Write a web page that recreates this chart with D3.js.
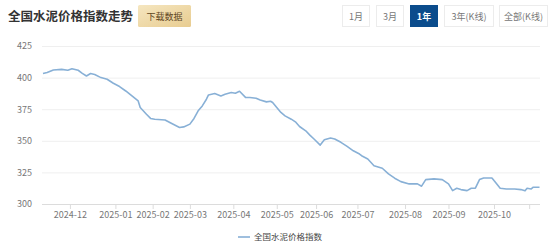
<!DOCTYPE html>
<html><head><meta charset="utf-8">
<script src="https://cdn.jsdelivr.net/npm/d3@7"></script>
<style>
body{margin:0;background:#fff}
svg{display:block}
text{font-family:"Noto Sans CJK SC","Noto Sans",sans-serif}
</style>
</head><body>
<svg id="c" width="560" height="246"></svg>
<script>
const title = "全国水泥价格指数走势";
const downloadLabel = "下载数据";
const seriesName = "全国水泥价格指数";
const rangeButtons = ["1月","3月","1年","3年(K线)","全部(K线)"];
const activeButton = "1年";
const firstDay = "2024-11-13", lastDay = "2025-11-10";
const holidays = ["2025-01-01","2025-01-28","2025-01-29","2025-01-30","2025-01-31","2025-02-03","2025-02-04",
  "2025-04-04","2025-05-01","2025-05-02","2025-05-05","2025-06-02",
  "2025-10-01","2025-10-02","2025-10-03","2025-10-06","2025-10-07","2025-10-08"];
const sampleDates = ["2024-11-13","2024-11-15","2024-11-20","2024-11-26","2024-11-29","2024-12-03","2024-12-06","2024-12-10",
  "2024-12-12","2024-12-16","2024-12-18","2024-12-23","2024-12-26","2024-12-31","2025-01-06","2025-01-09","2025-01-14",
  "2025-01-17","2025-01-20","2025-01-23","2025-01-27","2025-02-06","2025-02-13","2025-02-18","2025-02-24","2025-02-26",
  "2025-03-03","2025-03-05","2025-03-07","2025-03-11","2025-03-13","2025-03-14","2025-03-19","2025-03-24","2025-03-26",
  "2025-03-31","2025-04-02","2025-04-07","2025-04-10","2025-04-14","2025-04-17","2025-04-21","2025-04-24","2025-04-28",
  "2025-04-29","2025-05-06","2025-05-08","2025-05-12","2025-05-15","2025-05-19","2025-05-21","2025-05-26","2025-05-28",
  "2025-05-30","2025-06-05","2025-06-09","2025-06-12","2025-06-16","2025-06-19","2025-06-24","2025-06-27","2025-07-02",
  "2025-07-03","2025-07-08","2025-07-11","2025-07-17","2025-07-22","2025-07-25","2025-07-30","2025-08-05","2025-08-11",
  "2025-08-13","2025-08-15","2025-08-21","2025-08-27","2025-09-01","2025-09-03","2025-09-05","2025-09-09","2025-09-12",
  "2025-09-16","2025-09-18","2025-09-22","2025-09-24","2025-09-30","2025-10-09","2025-10-14","2025-10-17","2025-10-23",
  "2025-10-28","2025-10-30","2025-10-31","2025-11-04","2025-11-05","2025-11-10"];
const sampleValues = [403.2,404,406,406.5,405.8,407,405.8,403.4,
  401.3,403.2,402.4,400,398.7,395.5,392.9,389.4,385.5,
  381.5,376.3,371,367.7,367,366.5,363.9,360.5,361,
  363.2,367.7,373.7,377.6,382.9,386.3,387.4,385.5,386.8,
  388.2,387.6,389.2,384.2,384.2,383.7,382.3,380.8,381.3,
  380.3,376.3,372.4,369.7,367.1,365,361.3,357.9,354.5,
  351.4,346.6,350.8,352.2,351.4,348.8,345.6,342.1,339.5,
  338.2,335.6,330.3,328.3,323.8,320.4,317.7,315.9,315.9,
  314.1,319.3,319.9,319.3,315.9,310.6,312.5,311.4,310.6,
  312.5,312.5,319.3,320.6,320.6,318.5,312.5,311.9,311.9,
  311.4,310.4,312.5,311.9,313.3,313.3];
const yTicks = [300,325,350,375,400,425];
const monthTicks = ["2024-12","2025-01","2025-02","2025-03","2025-04","2025-05","2025-06","2025-07","2025-08","2025-09","2025-10","2025-11"];
const unlabeledMonths = ["2025-11"];

// trading-day categories
const tradingDays = [];
{
  const fmt = d3.utcFormat("%Y-%m-%d");
  let d = new Date(firstDay + "T00:00:00Z");
  const end = new Date(lastDay + "T00:00:00Z");
  while (d <= end) {
    const s = fmt(d), wd = d.getUTCDay();
    if (wd !== 0 && wd !== 6 && !holidays.includes(s)) tradingDays.push(s);
    d = d3.utcDay.offset(d, 1);
  }
}
const data = sampleDates.map((d, i) => ({date: d, value: sampleValues[i]}));

const svg = d3.select("#c");
const plotL = 42, plotR = 540, plotT = 46, plotB = 204;
const x = d3.scalePoint().domain(tradingDays).range([43, 539.5]);
const y = d3.scaleLinear().domain([300, 425]).range([plotB, plotT]);

// header
svg.append("text").attr("x", 8).attr("y", 21).attr("font-size", 12.5).attr("font-weight", "bold")
  .attr("fill", "#333").text(title);
const grad = svg.append("defs").append("linearGradient").attr("id", "g").attr("x1", 0).attr("y1", 0).attr("x2", 1).attr("y2", 1);
grad.append("stop").attr("offset", "0%").attr("stop-color", "#f5e6c0");
grad.append("stop").attr("offset", "100%").attr("stop-color", "#e8cc90");
svg.append("rect").attr("x", 138).attr("y", 5).attr("width", 53).attr("height", 22).attr("rx", 1.5).attr("fill", "url(#g)");
svg.append("text").attr("x", 164.5).attr("y", 19.5).attr("text-anchor", "middle").attr("font-size", 9)
  .attr("fill", "#5e4622").text(downloadLabel);

const btnX = [342, 376, 410, 444, 499], btnW = [28, 28, 28, 50, 49];
rangeButtons.forEach((b, i) => {
  const act = b === activeButton;
  svg.append("rect").attr("x", btnX[i] + 0.5).attr("y", 5.5).attr("width", btnW[i] - 1).attr("height", 21)
    .attr("fill", act ? "#0b4c8c" : "#fff").attr("stroke", act ? "#0b4c8c" : "#ececec");
  svg.append("text").attr("x", btnX[i] + btnW[i] / 2).attr("y", 19.5).attr("text-anchor", "middle")
    .attr("font-size", 9).attr("font-weight", act ? "bold" : "normal")
    .attr("fill", act ? "#fff" : "#777").text(b);
});

// grid + y axis
const gy = svg.append("g").attr("transform", `translate(${plotL},0)`)
  .call(d3.axisLeft(y).tickValues(yTicks).tickSize(-(plotR - plotL)).tickPadding(10));
gy.select(".domain").remove();
gy.selectAll(".tick line").attr("stroke", d => d === 300 ? "#dcdcdc" : "#efefef");
gy.selectAll(".tick text").attr("font-size", 9).attr("fill", "#777").attr("font-family", "\"Noto Sans CJK SC\",sans-serif");

// x axis
const tickDates = monthTicks.map(m => tradingDays.find(t => t.startsWith(m)));
const gx = svg.append("g").attr("transform", `translate(0,${plotB})`)
  .call(d3.axisBottom(x).tickValues(tickDates).tickSize(5).tickPadding(2.5)
    .tickFormat(d => unlabeledMonths.includes(d.slice(0, 7)) ? "" : d.slice(0, 7)));
gx.select(".domain").remove();
gx.selectAll(".tick line").attr("stroke", "#dcdcdc");
gx.selectAll(".tick text").attr("font-size", 9).attr("fill", "#777").attr("font-family", "\"Noto Sans CJK SC\",sans-serif");

// line
const lineColor = "#88b0d6";
svg.append("path").datum(data).attr("fill", "none").attr("stroke", lineColor).attr("stroke-width", 1.6)
  .attr("stroke-linejoin", "round")
  .attr("d", d3.line().x(d => x(d.date)).y(d => y(d.value)));

// legend
svg.append("line").attr("x1", 238).attr("x2", 250).attr("y1", 237).attr("y2", 237)
  .attr("stroke", lineColor).attr("stroke-width", 1.6);
svg.append("text").attr("x", 254).attr("y", 240).attr("font-size", 8.5).attr("fill", "#444").text(seriesName);
</script>
</body></html>
